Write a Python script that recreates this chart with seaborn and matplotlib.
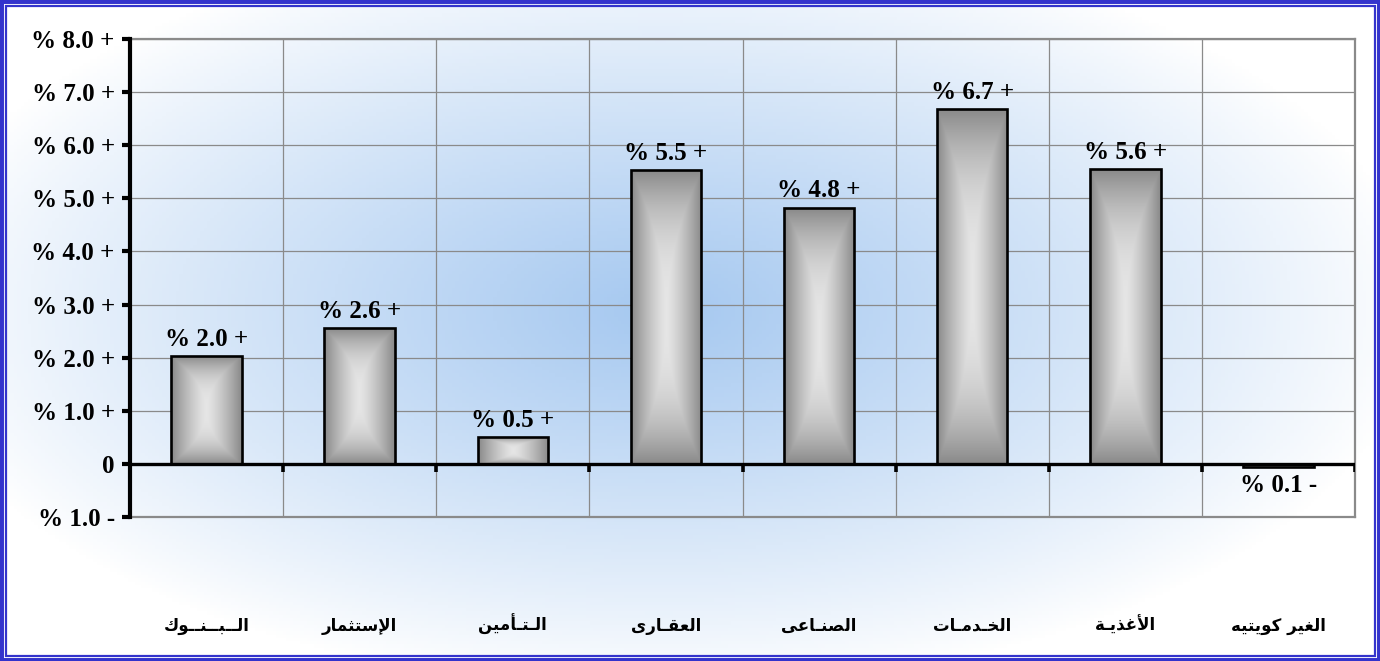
import numpy as np
import pandas as pd
import seaborn as sns
import matplotlib.pyplot as plt
from matplotlib.patches import Rectangle

# data
categories = ['الــبــنــوك', 'الإستثمار', 'الـتـأمين', 'العقـارى',
              'الصنـاعى', 'الخـدمـات', 'الأغذيـة', 'الغير كويتيه']
values = [2.03, 2.55, 0.5, 5.53, 4.82, 6.68, 5.55, -0.06]
value_labels = ['% 2.0 +', '% 2.6 +', '% 0.5 +', '% 5.5 +',
                '% 4.8 +', '% 6.7 +', '% 5.6 +', '% 0.1 -']
y_ticks = [-1, 0, 1, 2, 3, 4, 5, 6, 7, 8]
y_tick_labels = ['% 1.0 -', '0', '% 1.0 +', '% 2.0 +', '% 3.0 +', '% 4.0 +',
                 '% 5.0 +', '% 6.0 +', '% 7.0 +', '% 8.0 +']

# matplotlib does not shape arabic, so pick presentation forms by hand
FORMS = {
    'ا': ('\uFE8D', '\uFE8E', None, None), 'أ': ('\uFE83', '\uFE84', None, None),
    'إ': ('\uFE87', '\uFE88', None, None), 'ب': ('\uFE8F', '\uFE90', '\uFE91', '\uFE92'),
    'ت': ('\uFE95', '\uFE96', '\uFE97', '\uFE98'), 'ث': ('\uFE99', '\uFE9A', '\uFE9B', '\uFE9C'),
    'خ': ('\uFEA5', '\uFEA6', '\uFEA7', '\uFEA8'), 'د': ('\uFEA9', '\uFEAA', None, None),
    'ذ': ('\uFEAB', '\uFEAC', None, None), 'ر': ('\uFEAD', '\uFEAE', None, None),
    'س': ('\uFEB1', '\uFEB2', '\uFEB3', '\uFEB4'), 'ص': ('\uFEB9', '\uFEBA', '\uFEBB', '\uFEBC'),
    'ع': ('\uFEC9', '\uFECA', '\uFECB', '\uFECC'), 'غ': ('\uFECD', '\uFECE', '\uFECF', '\uFED0'),
    'ق': ('\uFED5', '\uFED6', '\uFED7', '\uFED8'), 'ك': ('\uFED9', '\uFEDA', '\uFEDB', '\uFEDC'),
    'ل': ('\uFEDD', '\uFEDE', '\uFEDF', '\uFEE0'), 'م': ('\uFEE1', '\uFEE2', '\uFEE3', '\uFEE4'),
    'ن': ('\uFEE5', '\uFEE6', '\uFEE7', '\uFEE8'), 'ه': ('\uFEE9', '\uFEEA', '\uFEEB', '\uFEEC'),
    'ة': ('\uFE93', '\uFE94', None, None), 'و': ('\uFEED', '\uFEEE', None, None),
    'ى': ('\uFEEF', '\uFEF0', None, None), 'ي': ('\uFEF1', '\uFEF2', '\uFEF3', '\uFEF4'),
    'ـ': ('ـ', 'ـ', 'ـ', 'ـ'),
}
LAM_ALEF = {'ا': ('\uFEFB', '\uFEFC'), 'أ': ('\uFEF7', '\uFEF8'), 'إ': ('\uFEF9', '\uFEFA')}


def shape_ar(text):
    toks = []
    i = 0
    while i < len(text):
        if text[i] == 'ل' and i + 1 < len(text) and text[i + 1] in LAM_ALEF:
            toks.append(('LA', text[i + 1]))
            i += 2
        else:
            toks.append(text[i])
            i += 1

    def joins_next(t):
        return not isinstance(t, tuple) and t in FORMS and FORMS[t][2] is not None

    def joins_prev(t):
        return isinstance(t, tuple) or t in FORMS

    out = []
    for k, t in enumerate(toks):
        p = k > 0 and joins_next(toks[k - 1]) and joins_prev(t)
        n = k < len(toks) - 1 and joins_next(t) and joins_prev(toks[k + 1])
        if isinstance(t, tuple):
            out.append(LAM_ALEF[t[1]][1 if p else 0])
        elif t in FORMS:
            iso, fin, ini, med = FORMS[t]
            out.append(med if (p and n) else fin if p else ini if n else iso)
        else:
            out.append(t)
    return ''.join(out[::-1])


df = pd.DataFrame({'cat': categories, 'val': values})

fig = plt.figure(figsize=(13.8, 6.61), dpi=100)

# soft blue glow behind everything
bg = fig.add_axes([0, 0, 1, 1], zorder=0)
gx, gy = np.meshgrid(np.linspace(0, 1380, 400), np.linspace(0, 661, 200))
r = np.sqrt(((gx - 660) / 760) ** 2 + ((gy - 310) / 380) ** 2)
t = np.clip(1 - r, 0, 1) ** 0.9
blue = np.array([165, 200, 240]) / 255
img = (1 - t[..., None]) * np.array([1, 1, 1]) + t[..., None] * blue
bg.imshow(img, extent=(0, 1, 0, 1), aspect='auto', origin='upper')
bg.axis('off')

ax = fig.add_axes([130 / 1380, 1 - 517 / 661, 1225 / 1380, 478 / 661], zorder=1)
ax.set_facecolor('none')

sns.barplot(data=df, x='cat', y='val', width=0.46, color='gray',
            edgecolor='black', linewidth=1.9, ax=ax, zorder=3)

# gradient fill inside each bar (dark edges, light centre, hourglass shape)
u = np.linspace(-1, 1, 80)
v = np.linspace(-1, 1, 200)
U, V = np.meshgrid(u, v)
d = np.maximum(np.abs(U), np.abs(V) ** 2)
d = np.clip(d, 0, 1) ** 1.3
dark, light = np.array([0.54, 0.54, 0.54]), np.array([0.90, 0.90, 0.90])
grad = light + (dark - light) * d[..., None]
for p in ax.patches:
    p.set_facecolor('none')
    x0, y0, w, h = p.get_x(), p.get_y(), p.get_width(), p.get_height()
    if h < 0:
        y0, h = y0 + h, -h
    im = ax.imshow(grad, extent=(x0, x0 + w, y0, y0 + h), aspect='auto', zorder=2.5)
    im.set_clip_path(p)

ax.set_xlim(-0.5, len(categories) - 0.5)
ax.set_ylim(-1, 8)

# grid
bounds = np.arange(len(categories) + 1) - 0.5
ax.set_yticks(y_ticks)
ax.set_yticklabels(y_tick_labels, family='Liberation Serif', fontweight='bold', fontsize=18)
ax.set_xticks(bounds[1:-1], minor=True)
ax.grid(axis='y', color='#8a8a8a', linewidth=0.9)
ax.grid(axis='x', which='minor', color='#8a8a8a', linewidth=0.9)
ax.set_axisbelow(True)

ax.axhline(0, color='black', linewidth=2.4, zorder=4)
ax.vlines(bounds[1:], -0.16, 0, color='black', linewidth=2.6, zorder=4)

for s in ['top', 'right', 'bottom']:
    ax.spines[s].set_color('#8a8a8a')
    ax.spines[s].set_linewidth(1.6)
ax.spines['left'].set_color('black')
ax.spines['left'].set_linewidth(3)
ax.spines['left'].set_zorder(5)

ax.tick_params(axis='y', length=6, width=3, pad=5, color='black')
ax.tick_params(axis='x', which='both', length=0, pad=82)
ax.set_xticks(range(len(categories)))
ax.set_xticklabels([shape_ar(c) for c in categories],
                   family='DejaVu Sans', fontweight='bold', fontsize=12)
for lab in ax.get_xticklabels():
    lab.set_verticalalignment('baseline')
ax.set_xlabel('')
ax.set_ylabel('')

for i, (val, lab) in enumerate(zip(values, value_labels)):
    if val >= 0:
        ax.annotate(lab, (i, val), xytext=(0, 4), textcoords='offset points',
                    ha='center', va='bottom', family='Liberation Serif',
                    fontweight='bold', fontsize=18, zorder=6)
    else:
        ax.annotate(lab, (i, val), xytext=(0, -5), textcoords='offset points',
                    ha='center', va='top', family='Liberation Serif',
                    fontweight='bold', fontsize=18, zorder=6)

# double blue frame
fig.patches.append(Rectangle((0, 0), 1, 1, transform=fig.transFigure, fill=False,
                             edgecolor='#3333cc', linewidth=5, zorder=10))
fig.patches.append(Rectangle((5.5 / 1380, 5.5 / 661), 1 - 11 / 1380, 1 - 11 / 661,
                             transform=fig.transFigure, fill=False,
                             edgecolor='#3333cc', linewidth=1.6, zorder=10))

plt.savefig('out.png', dpi=100)
